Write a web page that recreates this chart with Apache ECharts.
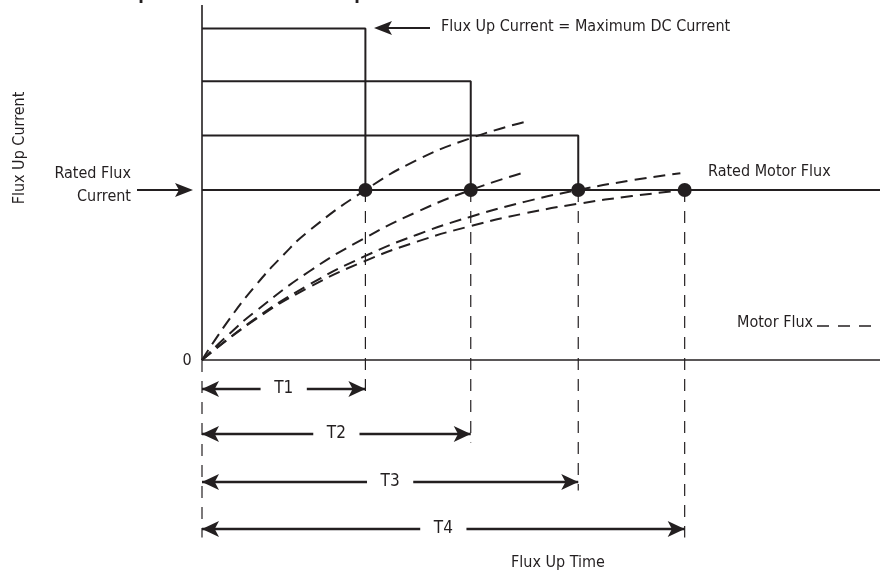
<!DOCTYPE html>
<html>
<head>
<meta charset="utf-8">
<script src="https://cdn.jsdelivr.net/npm/echarts@6/dist/echarts.min.js"></script>
<style>html,body{margin:0;padding:0;background:#fff}#c{width:887px;height:576px}</style>
</head>
<body>
<div id="c"></div>
<script>
// ---- data ----
const titleText = 'Flux Up Current versus Flux Up Time';
const tLabels = ['T1', 'T2', 'T3', 'T4'];
const fluxUpTimes = [1.52, 2.5, 3.5, 4.49];         // T1..T4 (time units)
const fluxUpCurrents = [1.95, 1.64, 1.32];          // current level held until T1..T3
const ratedFlux = 1;
const motorFlux1 = [[0,0],[0.25,0.236],[0.5,0.439],[0.75,0.613],[1,0.762],[1.52,1.0],[2,1.176],[2.5,1.305],[3,1.40]];
const motorFlux2 = [[0,0],[0.25,0.151],[0.5,0.287],[1,0.522],[1.5,0.712],[2,0.871],[2.5,1.0],[2.98,1.10]];
const motorFlux3 = [[0,0],[0.5,0.245],[1,0.444],[1.5,0.606],[2,0.737],[2.5,0.843],[3,0.930],[3.5,1.0],[4,1.057],[4.45,1.099]];
const motorFlux4 = [[0,0],[0.5,0.240],[1,0.429],[1.5,0.578],[2,0.696],[2.5,0.788],[3,0.862],[3.5,0.919],[4,0.964],[4.49,1.0]];
const arrowRows = [-0.17, -0.435, -0.718, -0.994];  // y of the T1..T4 dimension arrows
const xMax = 6.307, yMax = 2.088, yMin = -1.147;

// ---- styling ----
const INK = '#231f20';
const FONT = "'Liberation Sans Narrow','DejaVu Sans Condensed','Roboto',sans-serif";
const labelGap = 0.215;

const series = [];
function solid(data, w) {
  series.push({type:'line', data, symbol:'none', silent:true, animation:false,
    lineStyle:{color:INK, width:w||2}, z:3});
}
// axes drawn as lines
solid([[0,0],[0,yMax]], 1.6);
solid([[0,0],[xMax,0]], 1.6);
solid([[0,ratedFlux],[xMax,ratedFlux]], 2);
// flux-up current profiles
fluxUpCurrents.forEach((c,i)=>{
  solid([[0,c],[fluxUpTimes[i],c],[fluxUpTimes[i],ratedFlux]], 2);
});
// motor flux curves
[motorFlux1,motorFlux2,motorFlux3,motorFlux4].forEach(d=>{
  series.push({type:'line', data:d, smooth:true, symbol:'none', silent:true, animation:false,
    lineStyle:{color:INK, width:2, type:[12,7]}, z:4});
});
// dashed drop lines
series.push({type:'line', data:[[0,0],[0,arrowRows[3]-0.05]], symbol:'none', animation:false,
  lineStyle:{color:INK, width:1.2, type:[12,9]}, z:2});
fluxUpTimes.forEach((t,i)=>{
  series.push({type:'line', data:[[t,ratedFlux],[t,arrowRows[i]-0.05]], symbol:'none', animation:false,
    lineStyle:{color:INK, width:1.2, type:[12,9]}, z:2});
});
// dimension arrows
const mlData = [];
fluxUpTimes.forEach((t,i)=>{
  const y = arrowRows[i], mid = t/2;
  mlData.push([{coord:[0,y], symbol:'arrow'},{coord:[mid-labelGap,y], symbol:'none'}]);
  mlData.push([{coord:[mid+labelGap,y], symbol:'none'},{coord:[t,y], symbol:'arrow'}]);
});
series.push({type:'line', data:[], animation:false,
  markLine:{silent:true, animation:false, symbolSize:[12,17], label:{show:false},
    lineStyle:{color:INK, width:2.4, type:'solid', opacity:1}, data:mlData}});
// T labels
series.push({type:'scatter', symbolSize:0, animation:false, silent:true,
  itemStyle:{opacity:1},
  data: fluxUpTimes.map((t,i)=>[t/2, arrowRows[i], tLabels[i]]),
  label:{show:true, position:'inside', formatter:p=>p.data[2], color:INK, fontFamily:FONT, fontSize:17, opacity:1}});
// dots
series.push({type:'scatter', data:fluxUpTimes.map(t=>[t,ratedFlux]), symbolSize:14,
  itemStyle:{color:INK, opacity:1}, z:6, animation:false, silent:true});

const txt = (x,y,text,extra)=>Object.assign({type:'text', x, y, silent:true,
  style:Object.assign({text, fill:INK, font:'16px '+FONT, align:'left', verticalAlign:'middle'}, extra||{})});

const yTitle = txt(20,148,'Flux Up Current',{align:'center'});
yTitle.rotation = Math.PI/2;

const option = {
  animation:false,
  grid:{left:202, right:7, top:5, bottom:21},
  xAxis:{type:'value', min:0, max:xMax, show:false},
  yAxis:{type:'value', min:yMin, max:yMax, show:false},
  series,
  graphic:[
    txt(81,-6,titleText,{font:'bold 18px '+FONT}),
    txt(441,27,'Flux Up Current = Maximum DC Current'),
    {type:'line', shape:{x1:385,y1:28,x2:430,y2:28}, style:{stroke:INK, lineWidth:2}},
    {type:'polygon', shape:{points:[[374,28],[392,21],[388,28],[392,35]]}, style:{fill:INK}},
    txt(131,174,'Rated Flux',{align:'right'}),
    txt(131,197,'Current',{align:'right'}),
    {type:'line', shape:{x1:137,y1:190,x2:182,y2:190}, style:{stroke:INK, lineWidth:2}},
    {type:'polygon', shape:{points:[[193,190],[175,183],[179,190],[175,197]]}, style:{fill:INK}},
    yTitle,
    txt(708,172,'Rated Motor Flux'),
    txt(737,323,'Motor Flux'),
    {type:'line', shape:{x1:817,y1:326,x2:872,y2:326}, style:{stroke:INK, lineWidth:1.6, lineDash:[12,9]}},
    txt(187,361,'0',{align:'center'}),
    txt(558,563,'Flux Up Time',{align:'center'})
  ]
};
const chart = echarts.init(document.getElementById('c'), null, {renderer:'canvas'});
chart.setOption(option);
</script>
</body>
</html>
